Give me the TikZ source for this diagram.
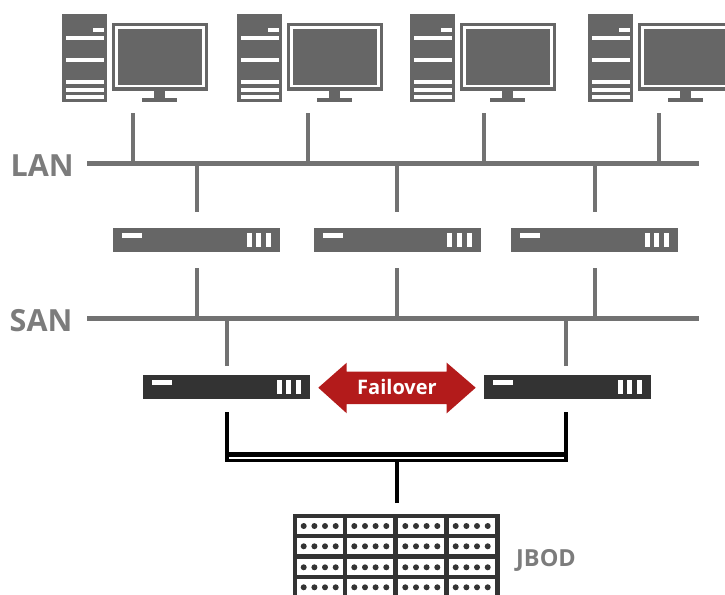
\documentclass[tikz,border=0pt]{standalone}
\usepackage{fontspec}
\setmainfont{Open Sans}
\usetikzlibrary{calc}
\definecolor{devgrey}{HTML}{666666}
\definecolor{devdark}{HTML}{333333}
\definecolor{linegrey}{HTML}{727272}
\definecolor{labelgrey}{HTML}{7C7C7C}
\definecolor{failred}{HTML}{B31B1B}
\tikzset{
  bus/.style={fill=linegrey,draw=none,inner sep=0pt,minimum height=5pt,minimum width=612pt},
  wire/.style={draw=linegrey,line width=4pt},
  blackwire/.style={draw=black,line width=4.3pt},
  rackbox/.style={fill=#1,draw=none,inner sep=0pt,minimum width=167pt,minimum height=24pt},
  busname/.style={text=labelgrey,font=\fontsize{30.5}{31}\selectfont\bfseries,inner sep=0pt},
  pics/computer/.style={code={
    \fill[devgrey] (0,0) rectangle (45,88);
    \fill[white] (31.3,14) rectangle (41.5,18.5);
    \foreach \yy in {22,44.5,66,73.5,81}{\fill[white] (3.5,\yy) rectangle (41.5,\yy+4);}
    \fill[devgrey] (50,9.5) rectangle (145.5,76.5);
    \fill[white] (53.3,12) rectangle (143,73);
    \fill[devgrey] (56,15) rectangle (140.3,71);
    \fill[devgrey] (92,76.5) rectangle (103,84);
    \fill[devgrey] (80.3,84) rectangle (115,88);
  }},
  pics/rackmarks/.style={code={
    \fill[white] (9.3,5) rectangle (29,9.7);
    \fill[white] (133.7,5) rectangle (138.7,19);
    \fill[white] (143,5) rectangle (148.3,19);
    \fill[white] (153,5) rectangle (158,19);
  }}
}
\begin{document}
\begin{tikzpicture}[x=1pt,y=-1pt]
\useasboundingbox (0,0) rectangle (725,594);
% computers
\foreach \cx in {62,237,410,588}{
  \pic at (\cx,14) {computer};
}
\coordinate (c1b) at (133,113);
\coordinate (c2b) at (308,113);
\coordinate (c3b) at (484,113);
\coordinate (c4b) at (659,113);
% buses
\node[bus] (lan) at (393,163.5) {};
\node[bus] (san) at (393,318.5) {};
\node[busname,anchor=base west] (lanlabel) at (10.5,176) {LAN};
\node[busname,anchor=base west] (sanlabel) at (9.5,331) {SAN};
% servers
\node[rackbox=devgrey] (s1) at (196.5,240) {};
\node[rackbox=devgrey] (s2) at (397,240) {};
\node[rackbox=devgrey] (s3) at (594.5,240) {};
\pic at (113,228) {rackmarks};
\pic at (313.5,228) {rackmarks};
\pic at (511,228) {rackmarks};
% storage heads
\node[rackbox=devdark] (h1) at (226.5,387) {};
\node[rackbox=devdark] (h2) at (567.5,387) {};
\pic at (143,375) {rackmarks};
\pic at (484,375) {rackmarks};
% connectors
\foreach \c in {c1b,c2b,c3b,c4b}{\draw[wire] (\c) -- (\c |- lan);}
\foreach \s in {s1,s2,s3}{
  \coordinate (\s t) at ($(\s.north)+(0,-16)$);
  \coordinate (\s b) at ($(\s.south)+(0,16)$);
  \draw[wire] (\s t) -- (\s t |- lan);
  \draw[wire] (\s b) -- (\s b |- san);
}
\coordinate (h1t) at (227,366);
\coordinate (h2t) at (566,366);
\draw[wire] (h1t) -- (h1t |- san);
\draw[wire] (h2t) -- (h2t |- san);
% failover arrow
\fill[failred] (318.3,387.7) -- (346.7,362.7) -- (346.7,371.7) -- (446.7,371.7) -- (446.7,362.7) -- (475.7,387.7) -- (446.7,413.3) -- (446.7,404) -- (346.7,404) -- (346.7,413.3) -- cycle;
\node[inner sep=0pt,text=white,font=\fontsize{20}{20}\selectfont\bfseries] (fail) at (397,386.5) {Failover};
% JBOD
\node[fill=devdark,draw=none,inner sep=0pt,minimum width=207.4pt,minimum height=82pt,anchor=north west] (jbod) at (292.3,513.3) {};
\foreach \cl in {296.7,347.3,398.3,448.7}{
  \foreach \rt in {518,538.3,559.3,579.3}{
    \fill[white] (\cl,\rt) rectangle (\cl+46,\rt+16);
    \foreach \dx in {7,17.7,28.3,39}{\fill[devdark] (\cl+\dx,\rt+8) circle (3);}
  }
}
\node[text=labelgrey,font=\fontsize{23.5}{24}\selectfont\bfseries,inner sep=0pt,anchor=base west] (jbodlabel) at (516,566) {JBOD};
% black wiring
\coordinate (j) at (397,503);
\coordinate (h1b) at (227,412);
\coordinate (h2b) at (566,412);
\draw[blackwire] (h1b) -- (227,462);
\draw[blackwire] (h2b) -- (566,462);
\draw[draw=black,line width=4.7pt] (225,454.4) -- (568,454.4);
\draw[draw=black,line width=3.6pt] (225,460.3) -- (568,460.3);
\draw[draw=black,line width=4pt] (j) -- (397,462);
\end{tikzpicture}
\end{document}
